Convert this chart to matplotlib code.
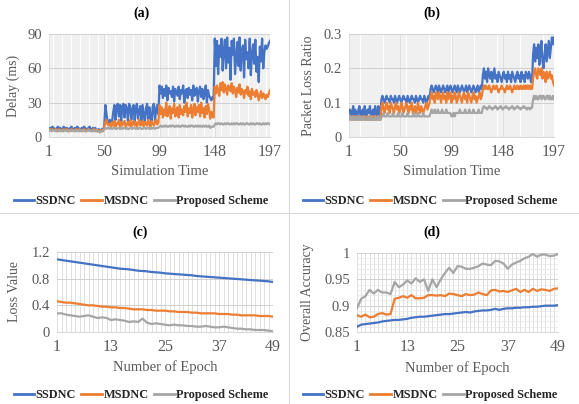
import matplotlib
matplotlib.use("Agg")
import matplotlib.pyplot as plt
from matplotlib.lines import Line2D
import numpy as np

plt.rcParams['font.family'] = ['Liberation Serif', 'DejaVu Serif']

BLUE = '#4472C4'
ORANGE = '#ED7D31'
GRAY = '#A5A5A5'
TXT = '#595959'

series_names = ['SSDNC', 'MSDNC', 'Proposed Scheme']

# ---------------- (a) Delay (ms) vs Simulation Time ----------------
a_xticks = [1, 50, 99, 148, 197]
a_ssdnc = [7,8,7,9,8,7,6,8,9,7,8,6,7,9,8,7,8,6,7,8,9,7,6,8,7,9,8,7,6,8,7,9,8,6,7,8,9,7,6,8,7,8,6,5,7,6,5,7,6,
           10,28,20,13,12,15,11,14,22,28,15,26,29,18,28,13,27,29,17,28,25,14,29,27,15,24,28,13,26,29,16,22,27,14,28,20,12,25,29,15,26,18,13,27,29,14,24,28,20,
           45,38,44,34,42,36,45,32,43,38,40,35,44,31,42,39,36,44,33,41,38,45,30,40,42,34,43,37,41,32,45,36,39,43,31,40,44,35,42,33,38,45,30,41,36,34,32,35,33,
           86,62,84,55,80,70,86,58,75,85,60,87,65,78,50,84,72,86,55,70,83,62,87,58,76,80,52,85,68,74,60,86,54,72,81,64,85,57,70,48,79,66,86,60,74,80,77,79,82,84]
a_msdnc = [6,7,6,7,6,6,7,5,6,7,6,6,5,7,6,6,7,6,5,6,7,6,6,5,7,6,6,7,5,6,6,7,6,5,6,7,6,6,5,6,7,6,5,6,6,5,6,6,5,
           9,13,15,11,10,12,9,13,10,14,9,12,11,15,9,13,10,12,14,9,11,13,10,15,9,12,14,10,13,9,12,15,10,11,14,9,13,12,10,15,11,9,14,12,10,13,15,11,12,
           28,20,26,17,24,19,30,18,22,27,16,25,21,29,18,23,26,17,28,20,24,19,27,22,30,18,25,21,28,17,24,29,19,26,22,28,18,30,21,25,17,27,20,29,24,16,22,18,17,
           44,38,45,40,36,47,41,48,39,46,42,37,45,43,40,47,38,44,41,35,43,39,46,37,42,40,34,41,38,44,36,40,33,42,37,39,35,41,38,32,36,40,34,38,36,33,37,35,38,41]
a_proposed = [6,6,5,6,6,5,6,6,5,6,5,6,6,5,6,6,5,5,6,6,5,6,5,6,6,5,6,5,6,6,5,6,5,5,6,6,5,6,5,6,5,5,6,5,5,4,5,5,6,
              7,8,7,8,8,7,8,7,8,8,7,7,8,8,7,8,7,8,8,7,8,7,7,8,8,7,8,8,7,8,7,8,8,7,7,8,8,7,8,8,7,8,7,8,8,7,8,8,8,
              9,10,9,9,10,9,10,9,9,10,9,10,10,9,9,10,9,10,9,9,10,10,9,10,9,9,10,9,10,10,9,9,10,9,10,9,10,9,9,10,9,10,9,9,10,8,9,9,9,
              11,12,11,12,12,11,12,11,11,12,11,12,12,11,11,12,11,12,11,12,12,11,11,12,11,12,11,11,12,12,11,11,12,11,12,11,11,12,12,11,12,11,11,12,11,12,11,12,12,11]
a_yticks = [0, 30, 60, 90]
a_yticklabels = ['0', '30', '60', '90']

# ---------------- (b) Packet Loss Ratio vs Simulation Time ----------------
b_xticks = [1, 50, 99, 148, 197]
b_ssdnc = [0.07,0.08,0.06,0.07,0.09,0.06,0.08,0.07,0.06,0.08,0.09,0.06,0.07,0.08,0.06,0.09,0.07,0.06,0.08,0.07,0.09,0.06,0.07,0.08,0.06,0.09,0.07,0.06,0.09,0.07,0.06,
           0.11,0.12,0.11,0.10,0.11,0.12,0.11,0.11,0.10,0.12,0.11,0.11,0.10,0.12,0.11,0.10,0.11,0.12,0.11,0.10,0.11,0.12,0.11,0.11,0.10,0.12,0.11,0.10,0.11,0.12,0.11,0.11,0.10,0.12,0.11,0.10,0.11,0.12,0.11,0.11,0.10,0.12,0.11,0.10,0.11,0.12,0.11,
           0.14,0.15,0.14,0.13,0.14,0.15,0.14,0.13,0.15,0.14,0.13,0.14,0.15,0.14,0.13,0.14,0.15,0.13,0.14,0.15,0.14,0.13,0.14,0.15,0.14,0.13,0.15,0.14,0.13,0.14,0.15,0.14,0.13,0.14,0.15,0.13,0.14,0.15,0.14,0.13,0.14,0.15,0.14,0.13,0.14,0.15,0.13,0.14,0.15,0.14,
           0.18,0.20,0.17,0.19,0.16,0.20,0.18,0.17,0.19,0.16,0.18,0.20,0.17,0.18,0.16,0.19,0.18,0.17,0.16,0.18,0.19,0.17,0.18,0.16,0.19,0.17,0.18,0.16,0.19,0.18,0.17,0.16,0.18,0.19,0.17,0.18,0.16,0.19,0.17,0.18,0.16,0.19,0.18,0.17,0.19,0.18,0.16,0.16,
           0.24,0.27,0.22,0.26,0.23,0.27,0.21,0.25,0.28,0.22,0.20,0.24,0.27,0.22,0.25,0.28,0.23,0.26,0.29,0.27,0.29]
b_msdnc = [0.06,0.06,0.05,0.06,0.06,0.05,0.06,0.06,0.05,0.06,0.06,0.05,0.06,0.05,0.06,0.06,0.05,0.06,0.05,0.06,0.06,0.05,0.06,0.05,0.06,0.05,0.06,0.05,0.06,0.05,0.05,
           0.09,0.10,0.08,0.07,0.09,0.10,0.08,0.09,0.07,0.10,0.09,0.08,0.07,0.09,0.10,0.08,0.09,0.07,0.08,0.10,0.09,0.07,0.08,0.09,0.10,0.08,0.07,0.09,0.08,0.10,0.07,0.08,0.09,0.07,0.08,0.10,0.08,0.07,0.09,0.08,0.07,0.08,0.09,0.10,0.08,0.09,0.10,
           0.12,0.13,0.11,0.12,0.10,0.13,0.12,0.11,0.13,0.12,0.10,0.12,0.13,0.11,0.12,0.10,0.13,0.11,0.12,0.13,0.10,0.12,0.11,0.13,0.12,0.10,0.11,0.13,0.12,0.11,0.10,0.12,0.13,0.11,0.12,0.10,0.13,0.12,0.11,0.10,0.12,0.13,0.11,0.12,0.10,0.11,0.12,0.13,0.11,0.12,
           0.14,0.15,0.14,0.15,0.14,0.14,0.15,0.14,0.13,0.14,0.15,0.14,0.14,0.15,0.14,0.13,0.14,0.14,0.15,0.14,0.14,0.13,0.14,0.15,0.14,0.14,0.15,0.14,0.13,0.14,0.15,0.14,0.14,0.15,0.14,0.14,0.15,0.14,0.14,0.15,0.14,0.15,0.14,0.15,0.14,0.15,0.14,0.14,
           0.17,0.19,0.20,0.18,0.17,0.20,0.19,0.18,0.20,0.17,0.19,0.18,0.16,0.19,0.17,0.18,0.19,0.17,0.18,0.16,0.15]
b_proposed = [0.06,0.05,0.06,0.05,0.05,0.06,0.05,0.05,0.06,0.05,0.05,0.06,0.05,0.05,0.06,0.05,0.05,0.05,0.06,0.05,0.05,0.06,0.05,0.05,0.05,0.06,0.05,0.05,0.06,0.05,0.05,
              0.06,0.06,0.07,0.06,0.06,0.06,0.07,0.06,0.06,0.06,0.06,0.07,0.06,0.06,0.06,0.06,0.07,0.06,0.06,0.06,0.07,0.06,0.06,0.06,0.06,0.07,0.06,0.06,0.06,0.06,0.06,0.07,0.06,0.06,0.06,0.07,0.06,0.06,0.06,0.06,0.07,0.06,0.06,0.06,0.06,0.06,0.06,
              0.07,0.08,0.07,0.07,0.08,0.07,0.07,0.08,0.07,0.07,0.07,0.08,0.07,0.07,0.07,0.08,0.07,0.07,0.07,0.07,0.06,0.06,0.07,0.06,0.07,0.07,0.07,0.07,0.08,0.07,0.07,0.07,0.07,0.08,0.07,0.07,0.07,0.08,0.07,0.07,0.07,0.08,0.07,0.07,0.07,0.07,0.08,0.07,0.07,0.07,
              0.085,0.09,0.085,0.085,0.08,0.085,0.09,0.085,0.085,0.08,0.085,0.085,0.09,0.085,0.08,0.085,0.085,0.09,0.085,0.08,0.085,0.085,0.09,0.085,0.085,0.08,0.085,0.085,0.09,0.085,0.08,0.085,0.085,0.09,0.085,0.085,0.08,0.085,0.085,0.09,0.085,0.085,0.08,0.085,0.085,0.08,0.085,0.085,
              0.11,0.12,0.11,0.12,0.11,0.11,0.12,0.12,0.11,0.12,0.12,0.11,0.11,0.12,0.12,0.11,0.12,0.11,0.11,0.12,0.11]
b_yticks = [0, 0.1, 0.2, 0.3]
b_yticklabels = ['0', '0.1', '0.2', '0.3']

# ---------------- (c) Loss Value vs Number of Epoch ----------------
c_xticks = [1, 13, 25, 37, 49]
c_ssdnc = [1.09,1.08,1.07,1.06,1.05,1.04,1.03,1.02,1.01,1.00,0.99,0.98,0.97,0.96,0.95,0.945,0.94,0.93,0.92,0.915,
           0.91,0.90,0.895,0.89,0.88,0.875,0.87,0.865,0.86,0.855,0.85,0.84,0.835,0.83,0.825,0.82,0.815,0.81,0.805,0.80,
           0.795,0.79,0.785,0.78,0.775,0.77,0.765,0.76,0.75]
c_msdnc = [0.46,0.45,0.44,0.44,0.43,0.42,0.41,0.40,0.40,0.39,0.38,0.38,0.37,0.37,0.36,0.36,0.35,0.34,0.34,0.34,
           0.33,0.33,0.32,0.32,0.32,0.31,0.31,0.30,0.30,0.30,0.29,0.29,0.28,0.28,0.28,0.28,0.27,0.27,0.27,0.26,
           0.26,0.25,0.25,0.25,0.25,0.24,0.24,0.24,0.23]
c_proposed = [0.28,0.28,0.26,0.25,0.24,0.23,0.24,0.25,0.23,0.21,0.22,0.21,0.18,0.19,0.18,0.17,0.15,0.16,0.15,0.20,
              0.14,0.12,0.13,0.12,0.11,0.10,0.11,0.10,0.10,0.09,0.09,0.08,0.08,0.09,0.08,0.07,0.07,0.08,0.07,0.06,
              0.05,0.05,0.04,0.04,0.03,0.03,0.03,0.02,0.01]
c_yticks = [0, 0.4, 0.8, 1.2]
c_yticklabels = ['0', '0.4', '0.8', '1.2']

# ---------------- (d) Overall Accuracy vs Number of Epoch ----------------
d_xticks = [1, 13, 25, 37, 49]
d_ssdnc = [0.860,0.864,0.865,0.866,0.867,0.868,0.870,0.871,0.872,0.873,0.873,0.874,0.875,0.877,0.878,0.879,0.879,0.880,0.881,0.882,
           0.883,0.884,0.884,0.885,0.886,0.887,0.888,0.887,0.889,0.890,0.891,0.891,0.892,0.894,0.892,0.894,0.895,0.895,0.896,0.896,
           0.897,0.897,0.898,0.898,0.899,0.900,0.900,0.900,0.901]
d_msdnc = [0.882,0.879,0.883,0.878,0.879,0.884,0.886,0.883,0.884,0.913,0.915,0.918,0.915,0.920,0.914,0.914,0.915,0.920,0.920,0.919,
           0.920,0.918,0.923,0.922,0.920,0.918,0.922,0.920,0.921,0.925,0.922,0.920,0.929,0.930,0.927,0.928,0.926,0.929,0.932,0.926,
           0.930,0.926,0.932,0.928,0.931,0.930,0.928,0.932,0.933]
d_proposed = [0.895,0.913,0.918,0.930,0.923,0.930,0.925,0.925,0.922,0.945,0.935,0.940,0.948,0.942,0.952,0.945,0.950,0.928,0.950,0.935,
              0.950,0.962,0.972,0.962,0.975,0.974,0.970,0.970,0.972,0.975,0.980,0.978,0.977,0.985,0.984,0.980,0.970,0.978,0.982,0.985,
              0.990,0.993,0.998,0.993,0.997,0.997,0.994,0.995,0.998]
d_yticks = [0.85, 0.9, 0.95, 1.0]
d_yticklabels = ['0.85', '0.9', '0.95', '1']

W, H = 579, 404
fig = plt.figure(figsize=(W / 100, H / 100), dpi=100)


def rect(l, t, r, b):
    return [l / W, 1 - b / H, (r - l) / W, (b - t) / H]


panels = [
    dict(rect=rect(49, 34, 270, 137), data=(a_ssdnc, a_msdnc, a_proposed), xticks=a_xticks,
         yticks=a_yticks, ylabels=a_yticklabels, ylim=(0, 90), ylabel='Delay (ms)', xlabel='Simulation Time',
         title='(a)', tx=141, ty=13, lx=141, ly=201, ylx=13, xly=172, minor_y=None),
    dict(rect=rect(349, 34, 554, 137), data=(b_ssdnc, b_msdnc, b_proposed), xticks=b_xticks,
         yticks=b_yticks, ylabels=b_yticklabels, ylim=(0, 0.3), ylabel='Packet Loss Ratio', xlabel='Simulation Time',
         title='(b)', tx=432, ty=13, lx=430, ly=201, ylx=308, xly=172, minor_y=None),
    dict(rect=rect(57, 252, 273, 332), data=(c_ssdnc, c_msdnc, c_proposed), xticks=c_xticks,
         yticks=c_yticks, ylabels=c_yticklabels, ylim=(0, 1.2), ylabel='Loss Value', xlabel='Number of Epoch',
         title='(c)', tx=140, ty=232, lx=141, ly=395, ylx=14, xly=367, minor_y=None),
    dict(rect=rect(357, 253, 558, 332), data=(d_ssdnc, d_msdnc, d_proposed), xticks=d_xticks,
         yticks=d_yticks, ylabels=d_yticklabels, ylim=(0.85, 1.0), ylabel='Overall Accuracy', xlabel='Number of Epoch',
         title='(d)', tx=432, ty=232, lx=430, ly=395, ylx=307, xly=368, minor_y=0.01),
]

colors = [BLUE, ORANGE, GRAY]

for p in panels:
    ax = fig.add_axes(p['rect'])
    n = len(p['data'][0])
    for ys, c, name in zip(p['data'], colors, series_names):
        xs = np.arange(1, len(ys) + 1)
        ax.plot(xs, ys, color=c, lw=1.6, label=name, solid_joinstyle='round', zorder=3)
    ax.set_xlim(1, n)
    ax.set_ylim(*p['ylim'])
    ax.set_xticks(p['xticks'])
    ax.set_xticklabels([str(v) for v in p['xticks']], fontsize=11.5, color=TXT)
    ax.set_xticks(np.arange(1, n + 1), minor=True)
    ax.set_yticks(p['yticks'])
    ax.set_yticklabels(p['ylabels'], fontsize=10.5, color=TXT)
    if p['minor_y']:
        ax.set_yticks(np.arange(p['ylim'][0], p['ylim'][1] + 1e-9, p['minor_y']), minor=True)
        ax.grid(which='minor', axis='y', color='#e6e6e6', lw=0.5, zorder=0)
    dense = n > 100
    ax.grid(which='minor', axis='x', color='#e8e8e8' if dense else '#d9d9d9',
            lw=0.45 if dense else 0.6, zorder=0)
    ax.grid(which='major', axis='x', color='#d9d9d9', lw=0.6, zorder=0)
    ax.grid(which='major', axis='y', color='#d0d0d0', lw=0.7, zorder=1)
    ax.tick_params(which='both', length=0, pad=5)
    for s in ax.spines.values():
        s.set_visible(False)
    ax.spines['bottom'].set_visible(True)
    ax.spines['bottom'].set_color('#d9d9d9')
    ax.set_axisbelow(True)

    fig.text(p['tx'] / W, 1 - p['ty'] / H, p['title'], ha='center', va='center',
             fontsize=10, fontweight='bold', color='#000000')
    fig.text(p['ylx'] / W, p['rect'][1] + p['rect'][3] / 2, p['ylabel'], rotation=90,
             ha='center', va='center', fontsize=10, color=TXT)
    fig.text((p['rect'][0] + p['rect'][2] / 2), 1 - p['xly'] / H, p['xlabel'], ha='center', va='center',
             fontsize=10.5, color=TXT)
    handles = [Line2D([0], [0], color=c, lw=2) for c in colors]
    fig.legend(handles, series_names, loc='center', bbox_to_anchor=(p['lx'] / W, 1 - p['ly'] / H),
               ncol=3, frameon=False, handlelength=1.7, handletextpad=0.1, columnspacing=0.45,
               prop=dict(family='Liberation Serif', weight='bold', size=8.8), labelcolor='#262626',
               borderpad=0.1)

# panel separators
fig.add_artist(Line2D([289 / W, 289 / W], [0, 1], color='#d9d9d9', lw=0.8))
fig.add_artist(Line2D([0, 1], [1 - 213 / H, 1 - 213 / H], color='#d9d9d9', lw=0.8))

fig.savefig('out.png', dpi=100)
